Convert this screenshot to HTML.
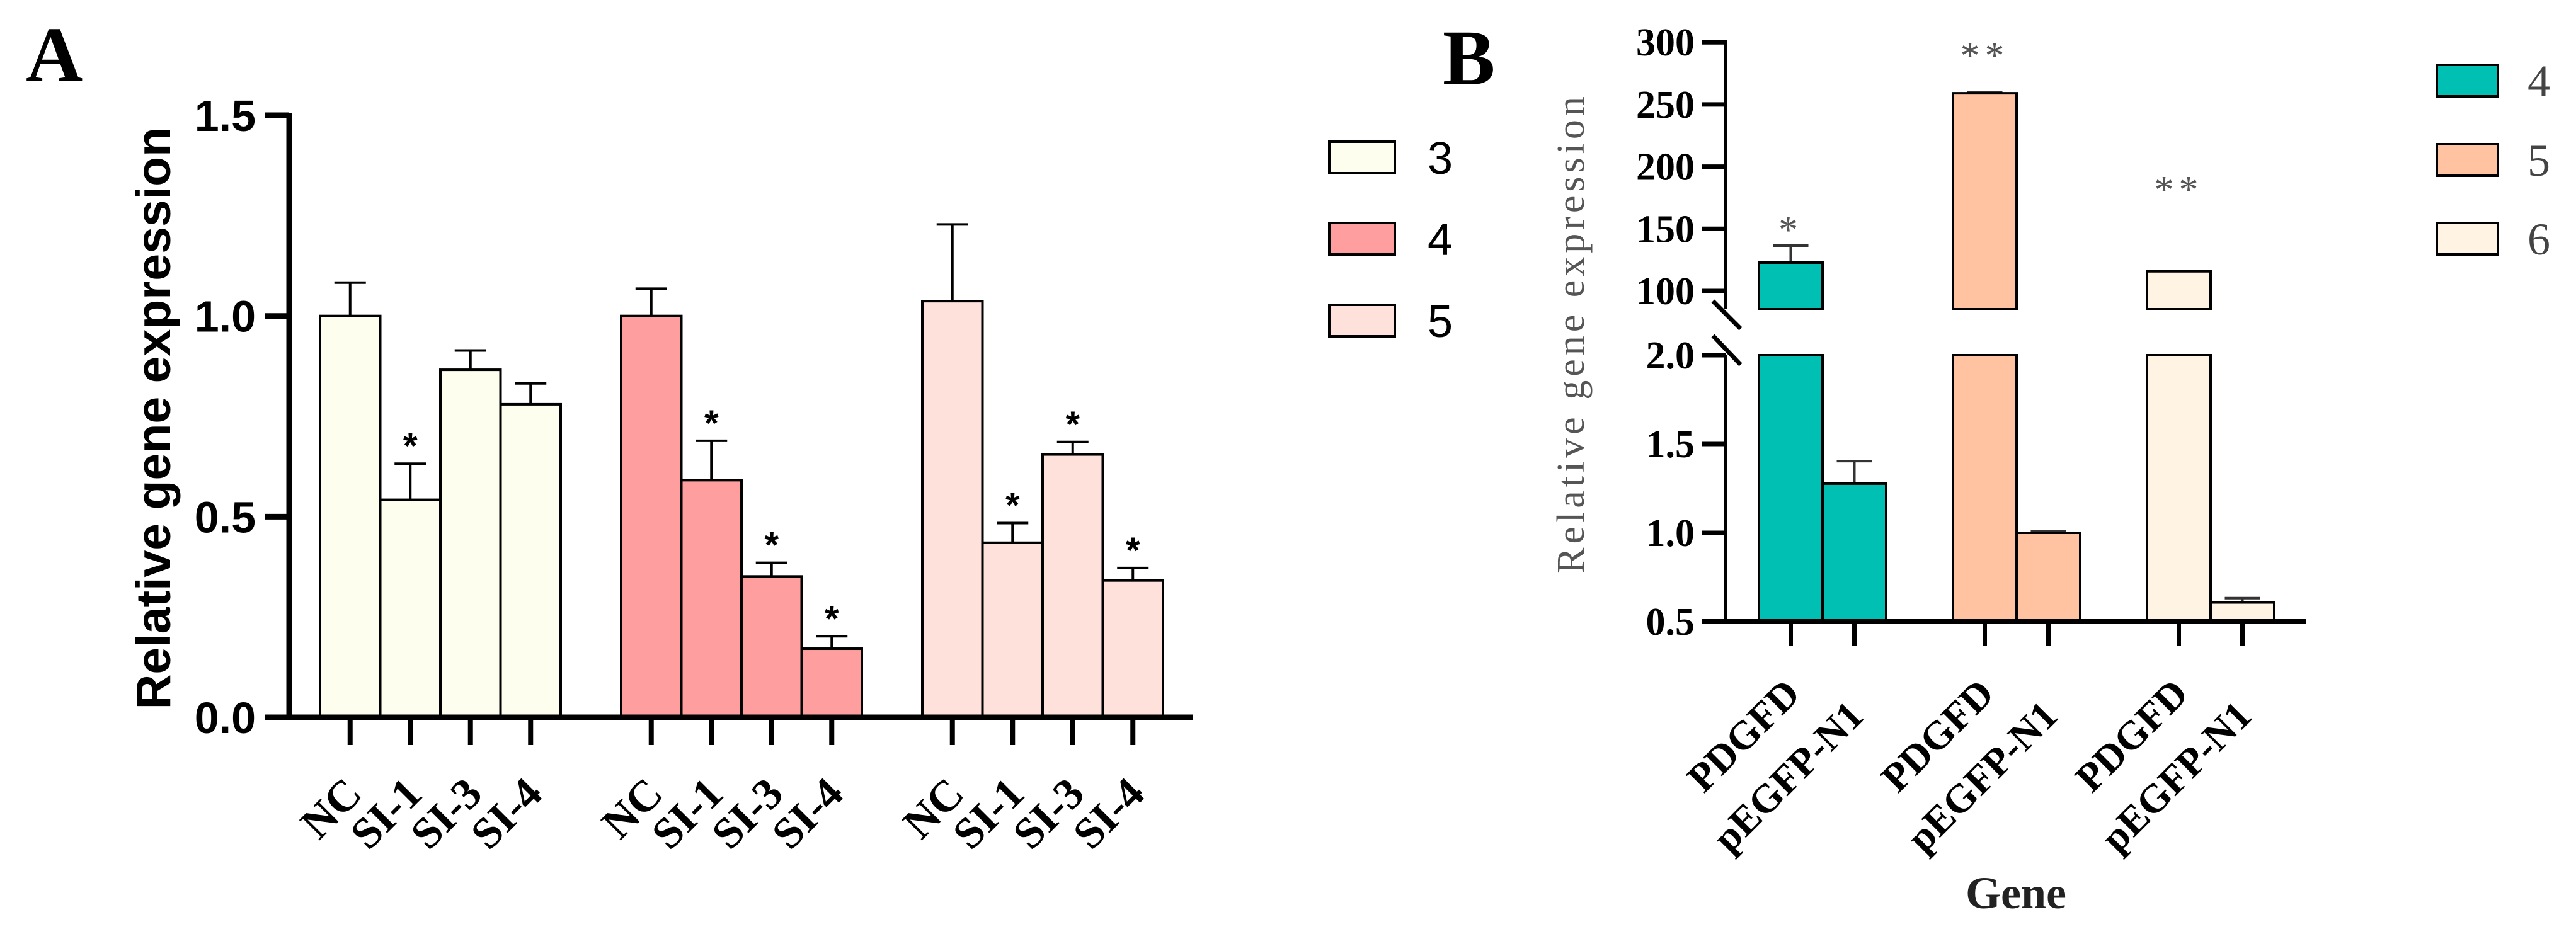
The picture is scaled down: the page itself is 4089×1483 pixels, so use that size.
<!DOCTYPE html>
<html><head><meta charset="utf-8"><style>
html,body{margin:0;padding:0;background:#fff;}
svg{display:block;}
</style></head><body>
<svg id="fig" width="4089" height="1483" viewBox="0 0 4089 1483" xmlns="http://www.w3.org/2000/svg">
<rect width="4089" height="1483" fill="#fff"/>
<g id="panelA"></g>
<g id="panelB"></g>
</svg>
<script>
// ---------- Panel A data ----------
const aCategories = ["NC","SI-1","SI-3","SI-4"];
const aSeriesNames = ["3","4","5"];
const aValues3 = [1.0, 0.542, 0.866, 0.78];
const aErr3 = [1.083, 0.632, 0.914, 0.832];
const aSig3 = [false, true, false, false];
const aValues4 = [1.0, 0.591, 0.351, 0.171];
const aErr4 = [1.068, 0.689, 0.385, 0.202];
const aSig4 = [false, true, true, true];
const aValues5 = [1.037, 0.435, 0.655, 0.341];
const aErr5 = [1.228, 0.484, 0.686, 0.372];
const aSig5 = [false, true, true, true];
const aTicks = ["0.0","0.5","1.0","1.5"];

// ---------- Panel B data ----------
const bCategories = ["PDGFD","pEGFP-N1"];
const bSeriesNames = ["4","5","6"];
const bValues4 = [122.8, 1.277];
const bErr4 = [136.5, 1.404];
const bValues5 = [259, 1.0];
const bErr5 = [260, 1.01];
const bValues6 = [115.8, 0.608];
const bErr6 = [115.8, 0.632];
const bStars = ["*","**","**"];
const bStarValues = [150, 290, 182];
const bTicksLower = ["0.5","1.0","1.5","2.0"];
const bTicksUpper = ["100","150","200","250","300"];

const NS="http://www.w3.org/2000/svg";
function mk(parent, tag, attrs, text){
  const e=document.createElementNS(NS,tag);
  for(const k in attrs) e.setAttribute(k,attrs[k]);
  if(text!==undefined) e.textContent=text;
  parent.appendChild(e);
  return e;
}

// ================= PANEL A =================
const A=document.getElementById('panelA');
const yA=v=>1139 - v*637.3;
const barW=95.5, gStart=508, gPitch=478;
const aColors=["#FEFEEE","#FE9E9E","#FFE1DB"];
const aVals=[aValues3,aValues4,aValues5], aErrs=[aErr3,aErr4,aErr5], aSigs=[aSig3,aSig4,aSig5];

let t=mk(A,'text',{x:41,y:129,'font-family':'Liberation Serif, serif','font-weight':'bold','font-size':125},'A');



for(let g=0;g<3;g++){
  for(let i=0;i<4;i++){
    const x=gStart+g*gPitch+i*barW;
    const v=aVals[g][i], e=aErrs[g][i], cx=x+barW/2;
    let eb=mk(A,'line',{x1:cx,y1:yA(e),x2:cx,y2:yA(v),stroke:'#000','stroke-width':4});
    
    
    let cap=mk(A,'line',{x1:cx-25,y1:yA(e),x2:cx+25,y2:yA(e),stroke:'#000','stroke-width':4});
    
    
    let r=mk(A,'rect',{x:x,y:yA(v),width:barW,height:yA(0)-yA(v),fill:aColors[g],stroke:'#000','stroke-width':4});
    
    
    if(aSigs[g][i]){
      let s=mk(A,'text',{x:cx,y:yA(e)-8,'text-anchor':'middle','font-family':'Liberation Sans, sans-serif','font-weight':'bold','font-size':58},'*');
      
      
    }
    let tk=mk(A,'line',{x1:cx,y1:1139,x2:cx,y2:1183,stroke:'#000','stroke-width':8});
    
    
    let lb=mk(A,'text',{x:0,y:0,'text-anchor':'end','font-family':'Liberation Serif, serif','font-weight':'bold','font-size':70,transform:'translate('+(cx+22)+',1264) rotate(-45)'},aCategories[i]);
    
    
  }
}
// axes A
let ax=mk(A,'line',{x1:459,y1:179,x2:459,y2:1143,stroke:'#000','stroke-width':9});


let axx=mk(A,'line',{x1:420,y1:1139,x2:1894,y2:1139,stroke:'#000','stroke-width':9});


aTicks.forEach(s=>{
  const v=parseFloat(s);
  let l=mk(A,'line',{x1:420,y1:yA(v),x2:459,y2:yA(v),stroke:'#000','stroke-width':9});
  
  
  let tl=mk(A,'text',{x:406,y:yA(v)+25,'text-anchor':'end','font-family':'Liberation Sans, sans-serif','font-weight':'bold','font-size':70},s);
  
  
});
let yt=mk(A,'text',{x:0,y:0,'text-anchor':'middle','font-family':'Liberation Sans, sans-serif','font-weight':'bold','font-size':77,transform:'translate(270,664) rotate(-90)'},'Relative gene expression');


// legend A
const legAY=[225,354,484];
for(let g=0;g<3;g++){
  let lr=mk(A,'rect',{x:2110,y:legAY[g],width:104,height:50,fill:aColors[g],stroke:'#000','stroke-width':4});
  
  
  let lt=mk(A,'text',{x:2266,y:legAY[g]+51,'font-family':'Liberation Sans, sans-serif','font-size':72},aSeriesNames[g]);
  
  
}

// ================= PANEL B =================
const B=document.getElementById('panelB');
const yU=v=>462-(v-100)*1.974;
const yL=v=>987-(v-0.5)*282;
const yB=v=> v>2 ? yU(v) : yL(v);
const bW=101, bStart=2792, bPitch=308;
const bColors=["#00BFB3","#FFC3A2","#FFF4E3"];
const bVals=[bValues4,bValues5,bValues6], bErrs=[bErr4,bErr5,bErr6];

t=mk(B,'text',{x:2290,y:134,'font-family':'Liberation Serif, serif','font-weight':'bold','font-size':125},'B');



for(let g=0;g<3;g++){
  for(let i=0;i<2;i++){
    const x=bStart+g*bPitch+i*bW, cx=x+bW/2;
    const v=bVals[g][i], e=bErrs[g][i];
    if(e>v){
      let eb=mk(B,'line',{x1:cx,y1:yB(e),x2:cx,y2:yB(v),stroke:'#333','stroke-width':4});
      
      
    }
    let cap=mk(B,'line',{x1:cx-28,y1:yB(e),x2:cx+28,y2:yB(e),stroke:'#333','stroke-width':4});
    
    
    if(v>2){
      let r1=mk(B,'path',{d:'M'+x+' 491 L'+x+' '+yU(v)+' L'+(x+bW)+' '+yU(v)+' L'+(x+bW)+' 491 Z',fill:bColors[g],stroke:'#000','stroke-width':4});
      
      
      let r2=mk(B,'rect',{x:x,y:564,width:bW,height:987-564,fill:bColors[g],stroke:'#000','stroke-width':4});
      
      
      let w=mk(B,'rect',{x:x-4,y:492,width:bW+8,height:70,fill:'#fff'});
      
      
    } else {
      let r=mk(B,'rect',{x:x,y:yL(v),width:bW,height:987-yL(v),fill:bColors[g],stroke:'#000','stroke-width':4});
      
      
    }
    let tk=mk(B,'line',{x1:cx,y1:987,x2:cx,y2:1025,stroke:'#000','stroke-width':7});
    
    
    const ly = i===0 ? 1105 : 1140;
    let lb=mk(B,'text',{x:0,y:0,'text-anchor':'end','font-family':'Liberation Serif, serif','font-weight':'bold','font-size':64,transform:'translate('+(cx+18)+','+ly+') rotate(-45)'},bCategories[i]);
    
    
  }
  const scx=bStart+g*bPitch+bW/2;
  let st=mk(B,'text',{x:scx,y:yU(bStarValues[g])+22,'text-anchor':'middle','font-family':'Liberation Serif, serif','font-size':62,fill:'#555','letter-spacing':8},bStars[g]);
  
  
}
// axes B
let bax1=mk(B,'line',{x1:2739,y1:64,x2:2739,y2:491,stroke:'#000','stroke-width':5});


let bax2=mk(B,'line',{x1:2739,y1:564,x2:2739,y2:990,stroke:'#000','stroke-width':5});


let bs1=mk(B,'line',{x1:2719,y1:478,x2:2763,y2:522,stroke:'#000','stroke-width':7});


let bs2=mk(B,'line',{x1:2719,y1:533,x2:2763,y2:579,stroke:'#000','stroke-width':7});


let bxx=mk(B,'line',{x1:2701,y1:987,x2:3661,y2:987,stroke:'#000','stroke-width':8});


function bTick(y,s){
  let l=mk(B,'line',{x1:2701,y1:y,x2:2739,y2:y,stroke:'#000','stroke-width':7});
  
  
  let tl=mk(B,'text',{x:2690,y:y+21,'text-anchor':'end','font-family':'Liberation Serif, serif','font-weight':'bold','font-size':62},s);
  
  
}
bTicksUpper.forEach(s=>bTick(yU(parseFloat(s)),s));
bTicksLower.forEach(s=>bTick(yL(parseFloat(s)),s));
let byt=mk(B,'text',{x:0,y:0,'text-anchor':'middle','font-family':'Liberation Serif, serif','font-size':62,fill:'#555','letter-spacing':6,transform:'translate(2514,529) rotate(-90)'},'Relative gene expression');


let bxt=mk(B,'text',{x:3200,y:1442,'text-anchor':'middle','font-family':'Liberation Serif, serif','font-weight':'bold','font-size':72,fill:'#222'},'Gene');


// legend B
const legBY=[103,229,354];
for(let g=0;g<3;g++){
  let lr=mk(B,'rect',{x:3868,y:legBY[g],width:97,height:50,fill:bColors[g],stroke:'#000','stroke-width':4});
  
  
  let lt=mk(B,'text',{x:4012,y:legBY[g]+50,'font-family':'Liberation Serif, serif','font-size':72,fill:'#444'},bSeriesNames[g]);
  
  
}
</script>
</body></html>
